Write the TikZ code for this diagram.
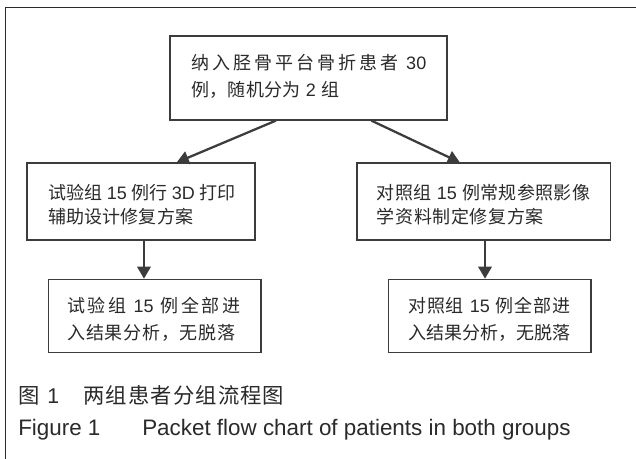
\documentclass[tikz,border=0pt]{standalone}
\usepackage{fontspec}
\setmainfont{Noto Sans CJK SC}
\newfontfamily\en{Liberation Sans}
\usetikzlibrary{arrows.meta,calc}
\makeatletter
\def\sp@end{\sp@end}
\newcommand\SP[2]{\makebox[\dimexpr #1pt*3/4\relax][s]{\sp@a#2\sp@end}}
\def\sp@a#1{#1\futurelet\sp@next\sp@b}
\def\sp@b{\ifx\sp@next\sp@end\expandafter\sp@stop\else\hfil\expandafter\sp@a\fi}
\def\sp@stop\sp@end{}
\makeatother
\definecolor{ink}{HTML}{2A2A2A}
\definecolor{edge}{HTML}{3C3C3C}
\tikzset{
  box/.style={draw=edge, line width=0.9pt, fill=white, inner sep=0pt},
  txt/.style={anchor=base west, inner sep=0pt, text=ink, font=\fontsize{13.5}{16}\selectfont},
  captxt/.style={anchor=base west, inner sep=0pt, text=ink, font=\fontsize{16}{19}\selectfont},
  captxten/.style={anchor=base west, inner sep=0pt, text=ink, font=\en\fontsize{16.8}{19}\selectfont},
  arr/.style={draw=edge, line width=1.7pt, -{Triangle[length=9pt,width=10pt]}},
  framestyle/.style={draw=ink, line width=1.1pt}
}
\begin{document}
\begin{tikzpicture}[x=0.75pt,y=-0.75pt]
\useasboundingbox (0,0) rectangle (636,459);
\fill[white] (0,0) rectangle (636,459);
% frame
\coordinate (fa) at (5.5,459);
\coordinate (fb) at (5.5,7.5);
\coordinate (fc) at (636,7.5);
\draw[framestyle] (fa) -- (fb) -- (fc);
% boxes
\node[box, minimum width=277*0.75pt, minimum height=84*0.75pt] (top) at (308.5,78) {};
\node[box, minimum width=228*0.75pt, minimum height=77*0.75pt] (l2) at (141,201.5) {};
\node[box, minimum width=253.5*0.75pt, minimum height=77*0.75pt] (r2) at (483.75,201.5) {};
\node[box, minimum width=212.3*0.75pt, minimum height=73.4*0.75pt] (l3) at (154.85,316) {};
\node[box, minimum width=202.4*0.75pt, minimum height=73.4*0.75pt] (r3) at (489.8,316) {};
% texts
\node[txt] (t1) at (191,70) {\SP{235}{纳入胫骨平台骨折患者{{\en\ 30}}}};
\node[txt] (t2) at (191,96.5) {\SP{148}{例，随机分为{{\en\ 2\ }}组}};
\node[txt] (l2a) at (48,200) {\SP{187}{试验组{{\en\ 15\ }}例行{{\en\ 3D\ }}打印}};
\node[txt] (l2b) at (48,224) {\SP{145}{辅助设计修复方案}};
\node[txt] (r2a) at (376.5,200) {\SP{213.5}{对照组{{\en\ 15\ }}例常规参照影像}};
\node[txt] (r2b) at (376.5,224) {\SP{167}{学资料制定修复方案}};
\node[txt] (l3a) at (67,313) {\SP{173}{试验组{{\en\ 15\ }}例全部进}};
\node[txt] (l3b) at (67,340) {\SP{168}{入结果分析，无脱落}};
\node[txt] (r3a) at (408,313) {\SP{162}{对照组{{\en\ 15\ }}例全部进}};
\node[txt] (r3b) at (408,340) {\SP{162}{入结果分析，无脱落}};
% arrows
\draw[arr] ($(top.south west)!0.383!(top.south east)$) -- ($(l2.north west)!0.656!(l2.north east)$);
\draw[arr] ($(top.south west)!0.726!(top.south east)$) -- ($(r2.north west)!0.406!(r2.north east)$);
\coordinate (la) at ($(l2.south west)!0.513!(l2.south east)$);
\draw[arr] (la) -- (la |- l3.north);
\coordinate (ra) at ($(r2.south west)!0.505!(r2.south east)$);
\draw[arr] (ra) -- (ra |- r3.north);
% captions
\node[captxt] (c1a) at (18,404) {图};
\node[captxten, font=\en\fontsize{16}{19}\selectfont] (c1n) at (47,404) {1};
\node[captxt] (c1b) at (83,404) {\SP{201}{两组患者分组流程图}};
\node[captxten] (c2a) at (18,436) {Figure 1};
\node[captxten] (c2b) at (142,436) {Packet flow chart of patients in both groups};
\end{tikzpicture}
\end{document}
